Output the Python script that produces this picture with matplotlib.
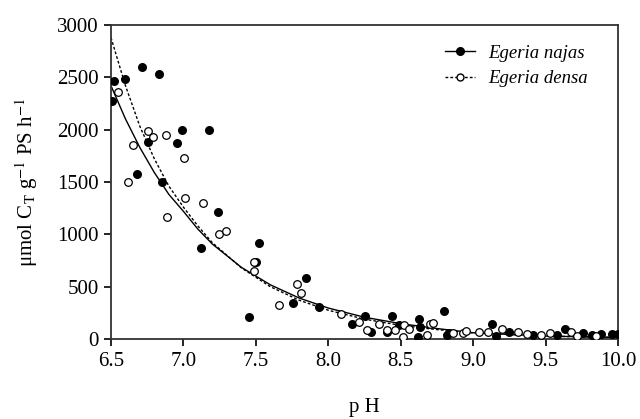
import matplotlib
matplotlib.use("Agg")
import matplotlib.pyplot as plt

plt.rcParams['font.family'] = ['Liberation Serif', 'DejaVu Serif']
plt.rcParams['mathtext.fontset'] = 'stix'

# Egeria najas (filled)
najas_ph = [6.505, 6.523, 6.599, 6.682, 6.712, 6.757, 6.831, 6.852, 6.953, 6.992,
            7.123, 7.178, 7.238, 7.452, 7.501, 7.519, 7.754, 7.848, 7.933, 8.165,
            8.255, 8.296, 8.403, 8.441, 8.485, 8.621, 8.628, 8.635, 8.798, 8.817,
            8.835, 9.127, 9.155, 9.249, 9.414, 9.576, 9.633, 9.760, 9.818, 9.886,
            9.960, 10.0]
najas_val = [2274, 2465, 2481, 1579, 2596, 1882, 2532, 1503, 1870, 2000,
             866, 2000, 1216, 207, 736, 920, 347, 580, 309, 140,
             217, 70, 64, 223, 131, 16, 191, 112, 270, 38,
             54, 143, 32, 64, 38, 38, 96, 54, 38, 45,
             45, 48]

# Egeria densa (open)
densa_ph = [6.550, 6.615, 6.654, 6.757, 6.788, 6.880, 6.889, 7.002, 7.011, 7.133,
            7.245, 7.294, 7.485, 7.485, 7.659, 7.782, 7.811, 8.085, 8.209, 8.265,
            8.350, 8.403, 8.462, 8.517, 8.524, 8.559, 8.679, 8.701, 8.722, 8.862,
            8.927, 8.950, 9.042, 9.100, 9.196, 9.311, 9.369, 9.468, 9.530, 9.673,
            9.720, 9.850]
densa_val = [2363, 1503, 1856, 1984, 1930, 1946, 1168, 1726, 1344, 1296,
             1000, 1035, 736, 647, 322, 529, 436, 236, 166, 83,
             143, 86, 86, 16, 131, 98, 38, 140, 156, 54,
             60, 79, 64, 64, 96, 64, 45, 38, 54, 64,
             30, 25]

# fitted curves
fit_ph = [6.5, 6.6, 6.7, 6.8, 6.9, 7.0, 7.1, 7.2, 7.4, 7.6, 7.8, 8.0, 8.25, 8.5,
          8.75, 9.0, 9.5, 10.0]
najas_fit = [2420, 2103, 1828, 1589, 1381, 1220, 1050, 907, 685, 518, 391, 296,
             208, 147, 100, 60, 28, 15]
densa_fit = [2880, 2420, 2030, 1720, 1460, 1260, 1080, 920, 680, 500, 370, 275,
             190, 130, 90, 58, 28, 14]

fig = plt.figure(figsize=(6.4, 4.19), dpi=100)
ax = fig.add_axes([0.1734, 0.1909, 0.7922, 0.7494])

ax.plot(fit_ph, najas_fit, color='black', lw=1.0, ls='-', zorder=2)
ax.plot(fit_ph, densa_fit, color='black', lw=1.0, ls=(0, (2, 1.5)), zorder=2)
ax.scatter(najas_ph, najas_val, s=30, color='black', zorder=3)
ax.scatter(densa_ph, densa_val, s=30, facecolor='white', edgecolor='black',
           linewidth=0.9, zorder=3)

# legend handles
h1, = ax.plot([], [], color='black', lw=1.0, marker='o', ms=5.5)
h2, = ax.plot([], [], color='black', lw=1.0, ls=(0, (2, 1.5)), marker='o', ms=5.0,
              mfc='white', mec='black')
ax.legend([h1, h2], ['Egeria najas', 'Egeria densa'], loc='upper right',
          frameon=False, prop={'style': 'italic', 'size': 13.5},
          handlelength=1.6, handletextpad=0.7, labelspacing=0.45,
          borderpad=0.3, bbox_to_anchor=(0.97, 0.985))

ax.set_xlim(6.5, 10.0)
ax.set_ylim(0, 3000)
ax.set_xticks([6.5, 7.0, 7.5, 8.0, 8.5, 9.0, 9.5, 10.0])
ax.set_xticklabels(['6.5', '7.0', '7.5', '8.0', '8.5', '9.0', '9.5', '10.0'])
ax.set_yticks([0, 500, 1000, 1500, 2000, 2500, 3000])
ax.tick_params(direction='out', length=5, width=1.2, labelsize=15, pad=4)
for sp in ax.spines.values():
    sp.set_linewidth(1.3)
    sp.set_color('#333333')

ax.set_xlabel('p H', fontsize=15, labelpad=20)
ax.set_ylabel(r'μmol C$_{\rm T}$ g$^{-1}$ PS h$^{-1}$', fontsize=15, labelpad=12)

fig.savefig('out.png', dpi=100)
